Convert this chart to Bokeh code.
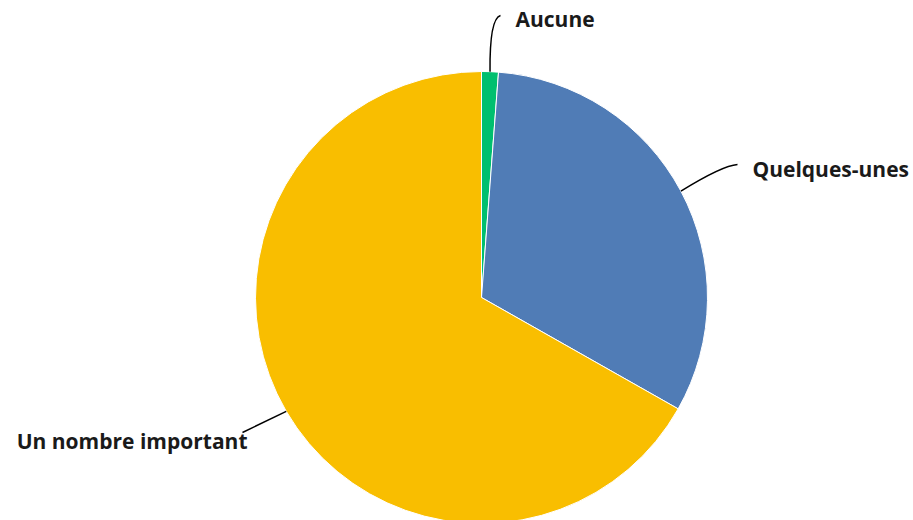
import math
from bokeh.plotting import figure
from bokeh.models import Range1d
from bokeh.core.properties import value
from bokeh.embed import file_html
from bokeh.resources import INLINE

# Data
categories = ["Aucune", "Quelques-unes", "Un nombre important"]
shares = [1.2, 32.0, 66.8]
colors = ["#00BF6F", "#507CB6", "#F9BE00"]

W, H = 913, 520
p = figure(width=W, height=H, output_backend="svg", toolbar_location=None,
           x_range=Range1d(0, W), y_range=Range1d(0, H), min_border=0)
p.axis.visible = False
p.grid.visible = False
p.outline_line_color = None
p.background_fill_color = "white"

def to_data(X, Y):
    return X, H - Y

cx, cy = to_data(481, 297)
R = 226

total = sum(shares)
starts, ends, mids = [], [], []
cum = 0.0
for s in shares:
    a0 = math.pi / 2 - 2 * math.pi * cum / total
    cum += s
    a1 = math.pi / 2 - 2 * math.pi * cum / total
    starts.append(a0)
    ends.append(a1)
    mids.append((a0 + a1) / 2)

p.wedge(x=[cx] * 3, y=[cy] * 3, radius=R, start_angle=starts, end_angle=ends,
        direction="clock", fill_color=colors, line_color="white", line_width=1)

# label layout (reference pixel coordinates)
label_pos = [(515, 18, "left"), (752, 168, "left"), (247, 440, "right")]
leader_end = [(500, 15), (737, 164), (242, 432)]
leader_ctrl = [(489, 18), (722, 165), None]

for i, name in enumerate(categories):
    sx = cx + R * math.cos(mids[i])
    sy = cy + R * math.sin(mids[i])
    ex, ey = to_data(*leader_end[i])
    if leader_ctrl[i] is not None:
        kx, ky = to_data(*leader_ctrl[i])
        p.quadratic(x0=[sx], y0=[sy], x1=[ex], y1=[ey], cx=[kx], cy=[ky],
                    line_color="black", line_width=1.5)
    else:
        p.segment(x0=[sx], y0=[sy], x1=[ex], y1=[ey], line_color="black", line_width=1.5)
    lx, ly = to_data(label_pos[i][0], label_pos[i][1])
    p.text(x=[lx], y=[ly], text=[name], text_align=label_pos[i][2], text_baseline="middle",
           text_font=value("Open Sans"), text_font_style="bold", text_font_size="21px",
           text_color="#1A1A1A")

open("out.html", "w").write(file_html(p, INLINE))
